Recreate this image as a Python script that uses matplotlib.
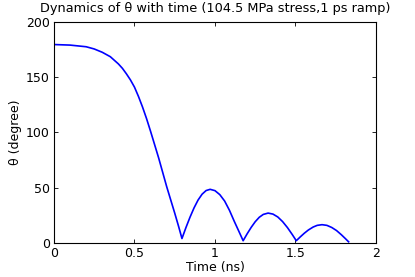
import matplotlib
matplotlib.use("Agg")
import matplotlib.pyplot as plt

time_ns = [0.0, 0.1, 0.2, 0.25, 0.3, 0.35, 0.4, 0.425, 0.45, 0.475, 0.5, 0.525, 0.55, 0.575, 0.6, 0.625,
           0.65, 0.675, 0.7, 0.725, 0.75, 0.775, 0.795,
           0.82, 0.845, 0.87, 0.895, 0.92, 0.945, 0.97, 1.0, 1.03, 1.06, 1.09, 1.12, 1.15, 1.175,
           1.2, 1.225, 1.25, 1.275, 1.30, 1.33, 1.36, 1.39, 1.42, 1.45, 1.48, 1.505,
           1.53, 1.555, 1.58, 1.61, 1.635, 1.665, 1.695, 1.725, 1.755, 1.785, 1.81, 1.83]
theta_deg = [179.5, 179, 177.5, 175.5, 172.5, 168.5, 162, 158, 153, 147.5, 141, 132.5, 123, 112.5, 101, 89,
             77, 64, 51, 39, 27, 14.5, 4,
             14, 23.3, 31.7, 38.8, 44.1, 47.4, 48.5, 47.3, 43.7, 37.9, 29.5, 19.5, 10, 2,
             8.3, 14.1, 19.2, 23.2, 25.8, 27, 26.1, 23.5, 19.3, 13.9, 7.6, 2,
             5.5, 8.8, 11.7, 14.4, 15.9, 16.5, 15.9, 14, 11.2, 7.4, 3.9, 1]

xticks = [0, 0.5, 1, 1.5, 2]
xticklabels = ["0", "0.5", "1", "1.5", "2"]
yticks = [0, 50, 100, 150, 200]

fig = plt.figure(figsize=(4.15, 2.77), dpi=100)
ax = fig.add_axes([0.130, 0.123, 0.776, 0.798])
ax.plot(time_ns, theta_deg, color=(0, 0, 1), lw=1.2)
ax.set_xlim(0, 2)
ax.set_ylim(0, 200)
ax.set_xticks(xticks)
ax.set_xticklabels(xticklabels)
ax.set_yticks(yticks)
ax.tick_params(direction="in", top=True, right=True, labelsize=9, length=3, width=0.6, pad=3)
for s in ax.spines.values():
    s.set_linewidth(0.8)
ax.set_xlabel("Time (ns)", fontsize=9, labelpad=1)
ax.set_ylabel("θ (degree)", fontsize=9, labelpad=3)
ax.set_title("Dynamics of θ with time (104.5 MPa stress,1 ps ramp)", fontsize=9.3, pad=7)
fig.savefig("out.png", dpi=100)
